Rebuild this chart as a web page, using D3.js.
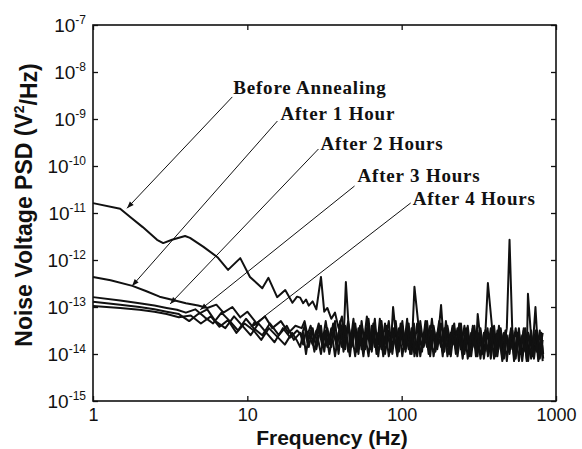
<!DOCTYPE html>
<html>
<head>
<meta charset="utf-8">
<script src="https://cdn.jsdelivr.net/npm/d3@7"></script>
<style>
  html, body { margin: 0; padding: 0; background: #fff; }
  svg { display: block; }
</style>
</head>
<body>
<svg id="chart" width="582" height="449"></svg>
<script>
// ---- Data: noise voltage PSD, exponents of V^2/Hz ----
const seriesNames = ["Before Annealing", "After 1 Hour", "After 2 Hours", "After 3 Hours", "After 4 Hours"];

const xTickValues = [1, 10, 100, 1000];
const yTickExponents = [-7, -8, -9, -10, -11, -12, -13, -14, -15];

// Low-frequency part: [frequency Hz, log10 PSD]
const beforeLow = [[1,-10.79],[1.5,-10.91],[1.75,-11.09],[2.1,-11.30],[2.6,-11.57],[2.85,-11.64],[3.25,-11.57],[3.95,-11.49],[4.25,-11.53],[5.2,-11.72],[6.4,-11.94],[7.5,-12.21],[9,-11.96],[10.4,-12.36],[12.5,-12.60],[13.7,-12.38],[15.6,-12.79],[17.6,-12.64],[19.6,-12.91],[21,-12.78]];
const hour1Low = [[1,-12.36],[1.3,-12.43],[1.8,-12.55],[2.2,-12.66],[2.7,-12.78],[3.3,-12.85],[4,-12.92],[4.8,-12.97],[5.5,-13.02],[6.3,-12.95],[7,-13.12],[8,-13.0],[9,-13.22],[10,-13.1],[11.5,-13.35],[13,-13.2],[14.5,-13.45],[16.5,-13.3],[18.5,-13.55],[20.5,-13.4]];
const hour2Low = [[1,-12.79],[1.5,-12.86],[2,-12.92],[2.5,-12.97],[3,-13.02],[3.5,-13.06],[4,-13.12],[4.6,-13.05],[5.3,-13.22],[6,-13.35],[6.8,-13.12],[7.7,-13.3],[8.7,-13.5],[9.8,-13.25],[11,-13.45],[12.5,-13.6],[14,-13.35],[16,-13.6],[18,-13.4],[20,-13.7]];
const hour3Low = [[1,-12.89],[1.5,-12.95],[2,-13.0],[2.5,-13.05],[3,-13.1],[3.6,-13.15],[4.2,-13.3],[4.8,-13.15],[5.5,-13.05],[6.2,-13.3],[7.2,-13.45],[8.2,-13.2],[9.3,-13.4],[10.5,-13.6],[11.8,-13.35],[13.3,-13.55],[15,-13.75],[17,-13.45],[19,-13.65],[21,-13.5]];
const hour4Low = [[1,-12.98],[1.5,-13.02],[2,-13.06],[2.5,-13.1],[3,-13.15],[3.6,-13.22],[4.3,-13.18],[5,-13.35],[5.8,-13.2],[6.6,-13.42],[7.5,-13.28],[8.5,-13.55],[9.6,-13.35],[11,-13.5],[12.3,-13.7],[13.8,-13.45],[15.5,-13.62],[17.5,-13.8],[19.5,-13.55],[21,-13.72]];

// High-frequency part: two interleaved frequency grids (Hz) and log10 PSD per series
const noiseFreqA = [22,23,24,25,26.5,28,30,31.5,33,35,37,39,41,43,45,47.5,50,52.5,55,58,61,64,67,70.5,74,78,82.5,87,91.5,96,101,106,111,116,120,126,132,139,146,153,161,170,180,189,198,208,219,230,242,255,268,282,296,310,324,341,360,378,397,417,438,460,480,500,522,548,575,604,632,660,690,720,752,785,820];
const noiseFreqB = [22.5,23.5,24.5,25.7,27.2,29,30.7,32.2,34,36,38,40,42,43.5,46.2,48.7,51.2,53.7,56.5,59.5,62.5,65.5,68.7,72.2,76,80.2,84.7,88,93.7,98.5,103.5,108.5,113.5,118,121,129,135.5,142.5,149.5,157,165.5,175,184.5,193.5,203,213.5,224.5,236,248.5,261.5,275,289,303,311,332,350,362,387,407,427,449,470,490,511,535,561,589,618,646,658,705,736,768,802,826];
const beforeHigh = [-12.80,-12.92,-12.84,-12.97,-12.88,-13.05,-12.36,-13.10,-13.02,-13.25,-13.12,-13.45,-13.2,-13.7,-13.3,-13.85,-13.35,-13.9,-13.4,-13.75,-13.25,-13.95,-13.45,-13.8,-13.3,-14.0,-13.5,-13.85,-13.3,-13.95,-13.4,-13.8,-13.35,-14.0,-13.5,-13.9,-13.3,-13.85,-13.45,-14.05,-13.4,-13.9,-13.35,-13.8,-13.5,-14.05,-13.45,-13.85,-13.35,-14.0,-13.55,-13.9,-13.4,-14.05,-13.5,-13.95,-13.45,-14.1,-13.55,-13.95,-13.45,-14.1,-13.6,-14.0,-13.5,-14.1,-13.55,-14.05,-13.45,-14.15,-13.6,-14.0,-13.5,-14.1,-13.7];
const hour1High = [-13.45,-13.3,-13.6,-13.4,-13.7,-13.35,-13.75,-13.3,-13.8,-13.35,-13.9,-13.3,-13.75,-12.47,-13.85,-13.25,-13.95,-13.4,-13.85,-13.2,-13.9,-13.35,-14.0,-13.25,-13.85,-13.4,-13.95,-13.0,-13.9,-13.35,-13.85,-13.25,-14.0,-13.4,-12.57,-13.45,-13.95,-13.3,-13.9,-13.25,-13.95,-13.4,-14.05,-13.3,-13.85,-13.4,-14.0,-13.35,-13.95,-13.45,-14.05,-13.4,-13.9,-13.15,-14.0,-13.45,-12.49,-13.5,-14.05,-13.4,-14.1,-13.5,-13.95,-13.45,-14.15,-13.55,-14.0,-13.45,-14.1,-12.72,-14.05,-13.5,-14.15,-13.55,-14.0];
const hour2High = [-13.55,-13.8,-13.5,-13.85,-13.45,-13.9,-13.4,-13.95,-13.45,-13.85,-13.3,-14.0,-13.4,-13.9,-13.35,-13.8,-13.45,-14.0,-13.3,-13.9,-13.5,-13.8,-13.25,-14.05,-13.45,-13.75,-13.3,-14.0,-13.4,-13.85,-13.3,-13.95,-13.45,-13.8,-13.35,-14.05,-13.5,-13.75,-13.3,-13.9,-13.45,-13.85,-12.96,-13.95,-13.4,-13.8,-13.35,-14.05,-13.5,-13.85,-13.4,-14.05,-13.5,-13.9,-13.45,-14.1,-13.55,-13.9,-13.4,-14.05,-13.5,-13.85,-13.45,-11.57,-13.6,-13.95,-13.45,-14.15,-13.55,-13.95,-13.5,-14.1,-13.6,-13.95,-13.55];
const hour3High = [-13.6,-13.4,-13.75,-13.5,-13.95,-13.45,-13.85,-13.5,-14.0,-13.55,-13.8,-13.4,-13.95,-13.5,-14.05,-13.4,-13.8,-13.5,-14.05,-13.45,-13.85,-13.55,-13.9,-13.45,-14.05,-13.5,-13.8,-13.45,-14.05,-13.55,-13.9,-13.45,-13.85,-13.5,-14.05,-13.55,-13.85,-13.4,-14.0,-13.5,-13.85,-13.3,-13.95,-13.55,-14.0,-13.45,-13.9,-13.5,-14.1,-13.5,-13.85,-13.45,-14.05,-13.55,-13.9,-13.5,-14.05,-13.45,-13.95,-13.55,-14.15,-13.55,-13.9,-13.5,-14.05,-13.6,-13.95,-13.5,-14.15,-13.55,-13.9,-13.0,-14.05,-13.6,-14.1];
const hour4High = [-13.85,-13.55,-14.0,-13.6,-13.8,-13.5,-14.0,-13.55,-13.85,-13.45,-14.05,-13.55,-13.85,-13.4,-13.95,-13.55,-14.05,-13.45,-13.9,-13.6,-14.05,-13.4,-13.85,-13.55,-13.9,-13.35,-14.05,-13.55,-13.8,-13.45,-14.05,-13.55,-13.9,-13.45,-13.95,-13.35,-14.05,-13.55,-13.85,-13.4,-14.05,-13.55,-13.85,-13.45,-14.05,-13.55,-13.8,-13.45,-13.9,-13.4,-14.1,-13.55,-13.85,-13.5,-14.1,-13.55,-13.95,-13.45,-14.1,-13.5,-13.9,-13.55,-14.15,-13.6,-13.9,-13.45,-14.15,-13.6,-13.95,-13.55,-14.1,-13.6,-13.95,-13.5,-14.15];

// Label leader lines: arrow tip on the curve and upper end at the label, [Hz, log10 PSD]
const labelTips = [[1.66,-10.9],[1.79,-12.553],[3.16,-12.936],[4.95,-13.06],[10.46,-13.43]];
const labelEnds = [[7.99,-8.53],[15.66,-9.043],[28.9,-9.638],[49.5,-10.426],[114.4,-10.787]];
// Text start (left end of baseline) for each label, [Hz, log10 PSD]
const labelText = [[8.11,-8.468],[16.38,-9.021],[29.8,-9.66],[51.8,-10.34],[117.9,-10.83]];

// ---- Build series ----
const lows = [beforeLow, hour1Low, hour2Low, hour3Low, hour4Low];
const highs = [beforeHigh, hour1High, hour2High, hour3High, hour4High];
const grids = [noiseFreqA, noiseFreqB, noiseFreqA, noiseFreqB, noiseFreqA];
const series = seriesNames.map((name, i) => ({
  name,
  points: lows[i].map(([f, e]) => ({ f, v: Math.pow(10, e) }))
    .concat(highs[i].map((e, j) => ({ f: grids[i][j], v: Math.pow(10, e) })))
}));

// ---- Layout ----
const plot = { left: 93, top: 25, right: 556, bottom: 401 };
const svg = d3.select("#chart");

const x = d3.scaleLog().domain([1, 1000]).range([plot.left, plot.right]);
const y = d3.scaleLog().domain([1e-15, 1e-7]).range([plot.bottom, plot.top]);

const sansFont = "'Liberation Sans', Arial, Helvetica, sans-serif";
const serifFont = "'Liberation Serif', 'Times New Roman', serif";
const ink = "#111";

// ---- Axes (ticks point inward on all four sides) ----
const yTicks = yTickExponents.map(e => Math.pow(10, e));

const gx = svg.append("g")
  .attr("transform", `translate(0,${plot.bottom})`)
  .call(d3.axisBottom(x).tickValues(xTickValues).tickSizeInner(-5).tickSizeOuter(0)
    .tickPadding(7).tickFormat(d3.format("d")));

const gxTop = svg.append("g")
  .attr("transform", `translate(0,${plot.top})`)
  .call(d3.axisTop(x).tickValues(xTickValues).tickSizeInner(-5).tickSizeOuter(0).tickFormat(""));

const gy = svg.append("g")
  .attr("transform", `translate(${plot.left},0)`)
  .call(d3.axisLeft(y).tickValues(yTicks).tickSizeInner(-5).tickSizeOuter(0)
    .tickPadding(7).tickFormat(() => ""));

const gyRight = svg.append("g")
  .attr("transform", `translate(${plot.right},0)`)
  .call(d3.axisRight(y).tickValues(yTicks).tickSizeInner(-5).tickSizeOuter(0).tickFormat(""));

// Power-of-ten labels with superscript exponent
gy.selectAll(".tick text").each(function (d) {
  const t = d3.select(this);
  t.text(null);
  t.append("tspan").text("10");
  t.append("tspan").attr("dy", "-0.6em").attr("font-size", 12)
    .text("-" + Math.round(-Math.log10(d)));
});

[gx, gxTop, gy, gyRight].forEach(g => {
  g.attr("font-family", sansFont).attr("font-size", 19);
  g.select(".domain").remove();
  g.selectAll(".tick line").attr("stroke", ink).attr("stroke-width", 1.3);
  g.selectAll(".tick text").attr("fill", ink);
});
gx.attr("font-size", 18);

// ---- Curves ----
const line = d3.line().x(d => x(d.f)).y(d => y(d.v));

svg.append("g")
  .selectAll("path")
  .data(series)
  .join("path")
  .attr("d", d => line(d.points))
  .attr("fill", "none")
  .attr("stroke", ink)
  .attr("stroke-width", 2)
  .attr("stroke-linejoin", "round");

// ---- Plot frame ----
svg.append("rect")
  .attr("x", plot.left).attr("y", plot.top)
  .attr("width", plot.right - plot.left).attr("height", plot.bottom - plot.top)
  .attr("fill", "none").attr("stroke", ink).attr("stroke-width", 1.6);

// ---- Annotations ----
svg.append("defs").append("marker")
  .attr("id", "tip")
  .attr("viewBox", "0 -4 8 8")
  .attr("refX", 8).attr("refY", 0)
  .attr("markerUnits", "userSpaceOnUse")
  .attr("markerWidth", 8).attr("markerHeight", 7)
  .attr("orient", "auto-start-reverse")
  .append("path").attr("d", "M0,-3L8,0L0,3Z").attr("fill", ink);

const pt = ([f, e]) => [x(f), y(Math.pow(10, e))];
const notes = svg.append("g");
seriesNames.forEach((name, i) => {
  const [x0, y0] = pt(labelTips[i]);
  const [x1, y1] = pt(labelEnds[i]);
  const [tx, ty] = pt(labelText[i]);
  notes.append("line")
    .attr("x1", x0).attr("y1", y0).attr("x2", x1).attr("y2", y1)
    .attr("stroke", ink).attr("stroke-width", 1)
    .attr("marker-start", "url(#tip)");
  notes.append("text")
    .attr("x", tx).attr("y", ty)
    .attr("font-family", serifFont).attr("font-weight", "bold")
    .attr("font-size", 19).attr("letter-spacing", 0.8)
    .attr("fill", ink)
    .text(name);
});

// ---- Axis titles ----
svg.append("text")
  .attr("x", 332).attr("y", 445)
  .attr("text-anchor", "middle")
  .attr("font-family", sansFont).attr("font-weight", "bold").attr("font-size", 21)
  .attr("fill", ink)
  .text("Frequency (Hz)");

const yTitle = svg.append("text")
  .attr("transform", "translate(32,205) rotate(-90)")
  .attr("text-anchor", "middle")
  .attr("font-family", sansFont).attr("font-weight", "bold").attr("font-size", 23)
  .attr("fill", ink);
yTitle.append("tspan").text("Noise Voltage PSD (V");
yTitle.append("tspan").attr("dy", "-0.55em").attr("font-size", 14).text("2");
yTitle.append("tspan").attr("dy", "0.55em").text("/Hz)");
</script>
</body>
</html>
